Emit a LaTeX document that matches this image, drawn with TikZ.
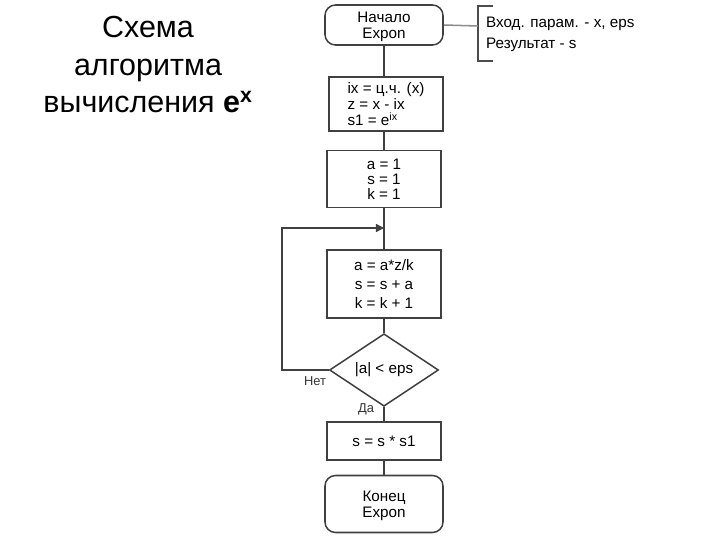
\documentclass[tikz,border=0pt]{standalone}
\usepackage{fontspec}
\setmainfont{Liberation Sans}
\usetikzlibrary{arrows.meta,positioning,calc}
\usetikzlibrary{shapes.geometric}

\begin{document}
\begin{tikzpicture}[x=0.03cm,y=-0.03cm,
every node/.style={font=\fontsize{13}{13.6}\selectfont},
box/.style={rectangle,draw=black!75,line width=1.3pt,minimum width=3.42cm,align=center,inner sep=2pt},
term/.style={rectangle,draw=black!75,line width=1.3pt,rounded corners=9pt,minimum width=3.54cm,align=center},
cond/.style={diamond,draw=black!75,line width=1.3pt,minimum width=3.27cm,minimum height=1.95cm,inner sep=0pt},
link/.style={draw=black!75,line width=1.3pt},
lbl/.style={font=\fontsize{11}{13}\selectfont,text=black!80}]
\useasboundingbox (0,0) rectangle (720,540);
% title
\node[align=center,font=\fontsize{26}{32}\selectfont] (title) at (148,65)
  {Схема\\алгоритма\\вычисления \textbf{e}\textsuperscript{\textbf{x}}};
% blocks
\node[term,minimum height=1.2cm,text depth=0pt] (start) at (384,25) {Начало\\Expon};
\node[box,minimum height=1.62cm,align=left] (B1) at (386,104)
  {ix = ц.ч. (x)\\z = x - ix\\s1 = e\textsuperscript{ix}};
\node[box,minimum height=1.71cm,font=\fontsize{13}{12.8}\selectfont] (B2) at (384,179) {a = 1\\s = 1\\k = 1};
\node[box,minimum height=2.04cm,font=\fontsize{13}{16.6}\selectfont] (B3) at (384,284) {a = a*z/k\\s = s + a\\k = k + 1};
\node[cond] (C) at (384,370) {|a| < eps};
\node[box,minimum height=1.14cm] (B4) at (384,441) {s = s * s1};
\node[term,minimum height=1.71cm,text depth=0pt] (stop) at (384,504) {Конец\\Expon};
% comment
\node[anchor=west,align=left,font=\fontsize{13}{18}\selectfont] (note) at (482,34) {Вход. парам. - x, eps\\Результат - s};
\coordinate (nt) at (493,6);
\coordinate (nb) at (493,61);
\draw[link,black!70] (nt) -- (478,6) -- (478,61) -- (nb);
\draw[link,black!45] (start.east) -- (478,26);
% connectors
\coordinate (join) at (384,228);
\coordinate (loop) at (282,370);
\draw[link] (start) -- (B1.north -| start);
\draw[link] (B1.south -| start) -- (B2);
\draw[link] (B2) -- (B3);
\draw[link] (B3) -- (C);
\draw[link] (C) -- (B4);
\draw[link] (B4) -- (stop);
\draw[link,-{Triangle[length=7pt,width=7pt]}] (C.west) -- (loop) |- (join);
% labels
\node[lbl] (no) at (315,381) {Нет};
\node[lbl] (yes) at (366,409) {Да};
\end{tikzpicture}
\end{document}
